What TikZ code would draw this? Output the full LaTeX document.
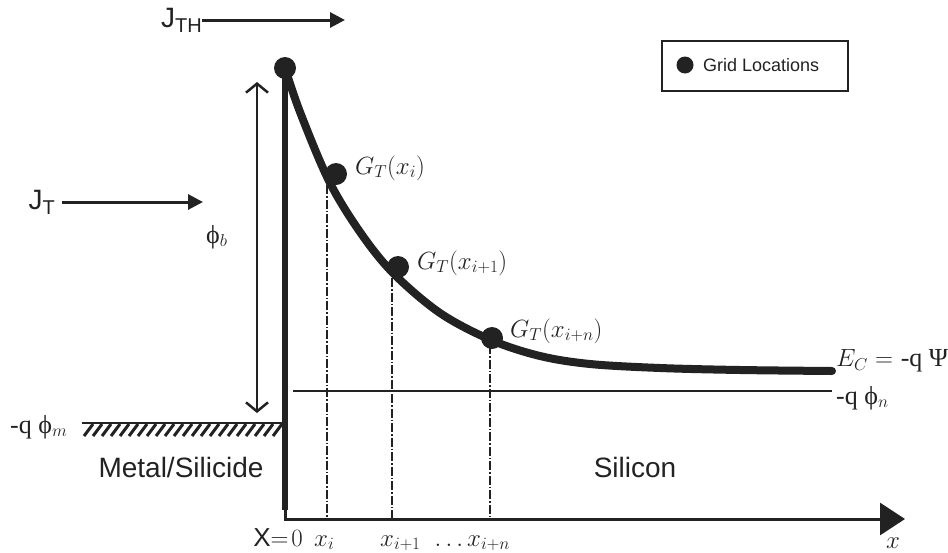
\documentclass[tikz,border=0pt]{standalone}
\usepackage{fontspec}
\usepackage{tikz}
\usetikzlibrary{arrows.meta,positioning,calc}
\newfontfamily\sansf{Liberation Sans}
\newfontfamily\grk{Liberation Serif}
\definecolor{cInk}{RGB}{34,34,34}
\tikzset{
  gridpt/.style={circle,fill=cInk,inner sep=0pt,minimum size=22pt},
  sanslbl/.style={font=\sansf\fontsize{28}{32}\selectfont,inner sep=0pt,text=cInk},
  mathlbl/.style={font=\fontsize{26}{30}\selectfont,inner sep=0pt,text=cInk},
  fluxarr/.style={-{Triangle[length=15pt,width=15pt]},line width=3pt,draw=cInk},
  axisarr/.style={-{Triangle[length=25pt,width=32pt]},line width=3pt,draw=cInk},
  barrarr/.style={{Straight Barb[length=9pt,width=22pt]}-{Straight Barb[length=9pt,width=22pt]},
                  line width=2.5pt,draw=cInk},
  dropline/.style={line width=1.2pt,draw=cInk,dash pattern=on 9pt off 2pt on 1.5pt off 2pt},
  bandline/.style={line width=8pt,draw=cInk,line cap=round}
}

\begin{document}
\begin{tikzpicture}[x=1pt,y=-1pt]
  \useasboundingbox (0,0) rectangle (948,552);

  % barrier wall and x axis
  \coordinate (top) at (285,68);
  \coordinate (foot) at (285,510);
  \coordinate (xend) at (905,519);
  \draw[line width=6.5pt,draw=cInk] (top) -- (foot);
  \draw[axisarr] (foot) |- (xend);

  % conduction band
  \draw[bandline] plot[smooth,tension=0.55] coordinates
      {(285,68) (300,112) (329,181) (360,232) (393,273) (440,313)
       (491,340) (540,356) (590,364) (660,368) (740,370) (832,371)};
  \coordinate (ecend) at (832,371);

  % quasi Fermi level
  \coordinate (fnstart) at (293,391);
  \coordinate (fnend) at (832,391);
  \draw[line width=2.5pt,draw=cInk] (fnstart) -- (fnend);

  % metal Fermi level with hatching
  \coordinate (fmstart) at (82,423);
  \coordinate (fmend) at (283,423);
  \draw[line width=2.5pt,draw=cInk] (fmstart) -- (fmend);
  \foreach \hx in {84,93,...,276}
    \draw[line width=3pt,draw=cInk] (\hx,436) -- (\hx+9,424);

  % grid points
  \node[gridpt] (g0) at (285,68) {};
  \node[gridpt] (gi) at (336,174) {};
  \node[gridpt] (gi1) at (398,267) {};
  \node[gridpt] (gin) at (492,338) {};

  \coordinate (ci) at (327,185);
  \coordinate (ci1) at (392,278);
  \coordinate (cin) at (490,345);
  \draw[dropline] (ci) -- (ci |- xend);
  \draw[dropline] (ci1) -- (ci1 |- xend);
  \draw[dropline] (cin) -- (cin |- xend);

  \node[mathlbl,anchor=west] (lgi) at (355,168) {$G_T(x_i)$};
  \node[mathlbl,anchor=west] (lgi1) at (417,263) {$G_T(x_{i+1})$};
  \node[mathlbl,anchor=west] (lgin) at (510,331) {$G_T(x_{i+n})$};

  % barrier height
  \coordinate (bb) at (257,413);
  \coordinate (bt) at (257,82);
  \draw[barrarr] (bb) -- (bt);
  \node[mathlbl,anchor=west] (lphib) at (206,237) {{\grk ϕ}$_b$};

  % currents
  \node[sanslbl,anchor=east] (jth) at (202,20) {J\raisebox{-0.35ex}{\fontsize{20}{24}\selectfont TH}};
  \coordinate (jthend) at (345,20);
  \draw[fluxarr] (jth.east) -- (jthend);
  \node[sanslbl,anchor=east] (jt) at (55,202) {J\raisebox{-0.35ex}{\fontsize{20}{24}\selectfont T}};
  \coordinate (jtend) at (203,202);
  \draw[fluxarr] ($(jt.east)+(7,0)$) -- (jtend);

  % level labels
  \node[mathlbl,anchor=west] (lec) at (836,361) {$E_C =$ {\grk -q Ψ}};
  \node[mathlbl,anchor=west] (lfn) at (836,398) {{\grk -q ϕ}$_n$};
  \node[mathlbl,anchor=west] (lfm) at (10,427) {{\grk -q ϕ}$_m$};

  % regions
  \node[sanslbl] (metal) at (181,467) {Metal/Silicide};
  \node[sanslbl] (silicon) at (635,467) {Silicon};

  % axis labels
  \node[mathlbl,anchor=base] (lx0) at (278,546) {{\sansf X}$=\!0$};
  \node[mathlbl,anchor=base west] (lxi) at (314,546) {$x_i$};
  \node[mathlbl,anchor=base west] (lxi1) at (380,546) {$x_{i+1}$};
  \node[mathlbl,anchor=base] (ldots) at (449,546) {$\ldots$};
  \node[mathlbl,anchor=base west] (lxin) at (467,546) {$x_{i+n}$};
  \node[mathlbl,anchor=base] (lx) at (893,548) {$x$};

  % legend
  \node[draw=cInk,line width=1.5pt,minimum width=186pt,minimum height=50pt,inner sep=0pt]
      (legend) at (755,66) {};
  \node[gridpt,minimum size=17pt] (legdot) at (685,65) {};
  \node[font=\sansf\fontsize{18}{22}\selectfont,text=cInk,anchor=west,inner sep=0pt]
      (legtxt) at (703,65) {Grid Locations};
\end{tikzpicture}
\end{document}
